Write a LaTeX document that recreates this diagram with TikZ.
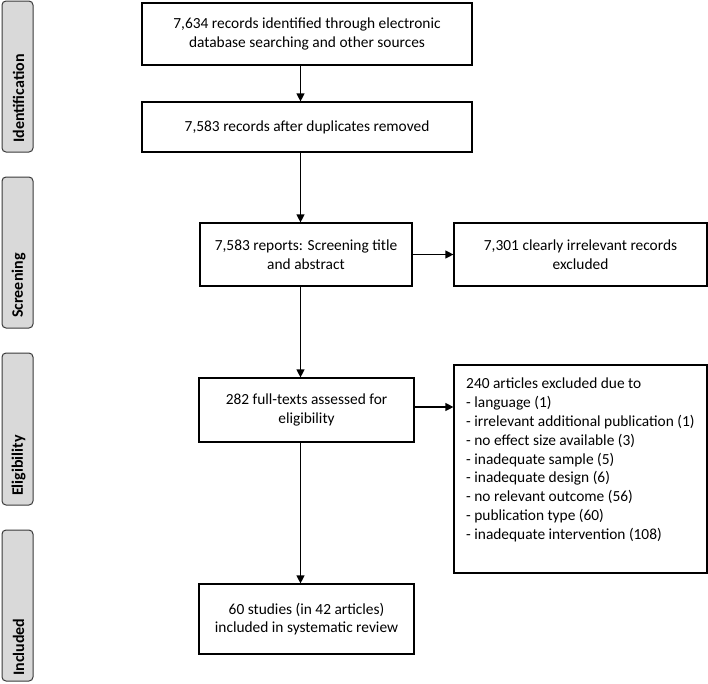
\documentclass[tikz,border=0pt]{standalone}
\usepackage{fontspec}
\setmainfont{Carlito}
\usetikzlibrary{arrows.meta}
\definecolor{sidegray}{HTML}{D9D9D9}
\definecolor{sideedge}{HTML}{3A3A3A}
\tikzset{
  box/.style={draw=black, line width=1.2pt, fill=white, align=center, inner sep=0pt,
    font=\fontsize{15.4}{18.6}\selectfont},
  side/.style={draw=sideedge, line width=1pt, fill=sidegray, rounded corners=4pt, inner sep=0pt},
  sidetext/.style={rotate=90, anchor=west, inner sep=0pt, font=\fontsize{16}{17}\selectfont\bfseries},
  arr/.style={line width=1.2pt, -{Triangle[length=8pt,width=8pt]}},
  listtext/.style={align=left, anchor=north west, inner sep=0pt, font=\fontsize{15.4}{18.8}\selectfont}
}
\begin{document}
\begin{tikzpicture}[x=1pt,y=-1pt]
\useasboundingbox (0,0) rectangle (708,683);
% side labels
\node[side, minimum width=31pt, minimum height=151pt] (sid) at (17.5,76.5) {};
\node[side, minimum width=31pt, minimum height=151pt] (sscr) at (17.5,252.5) {};
\node[side, minimum width=31pt, minimum height=152pt] (seli) at (17.5,429) {};
\node[side, minimum width=31pt, minimum height=151pt] (sinc) at (17.5,605.5) {};
\node[sidetext] (tid) at (18.5,143) {Identification};
\node[sidetext] (tscr) at (18.5,318) {Screening};
\node[sidetext] (teli) at (18.5,496) {Eligibility};
\node[sidetext] (tinc) at (18.5,676) {Included};
% boxes
\node[box, minimum width=330pt, minimum height=62pt] (b1) at (307,34) {7,634 records identified through electronic\\database searching and other sources};
\node[box, minimum width=330pt, minimum height=50pt] (b2) at (307,127) {7,583 records after duplicates removed};
\node[box, minimum width=212pt, minimum height=63pt] (b3) at (306,254.5) {7,583 reports: Screening title\\and abstract};
\node[box, minimum width=253pt, minimum height=63pt] (b4) at (580.5,254.5) {7,301 clearly irrelevant records\\excluded};
\node[box, minimum width=215pt, minimum height=64pt] (b5) at (306.5,410) {282 full-texts assessed for\\eligibility};
\node[box, minimum width=253pt, minimum height=208pt] (b6) at (580.5,469) {};
\node[listtext] (l6) at (466,378) {240 articles excluded due to\\
- language (1)\\
- irrelevant additional publication (1)\\
- no effect size available (3)\\
- inadequate sample (5)\\
- inadequate design (6)\\
- no relevant outcome (56)\\
- publication type (60)\\
- inadequate intervention (108)};
\node[box, minimum width=215pt, minimum height=70pt] (b7) at (306.5,619) {60 studies (in 42 articles)\\included in systematic review};
% connectors
\coordinate (ax) at (300.5,0);
\draw[arr] (b1.south -| ax) -- (b2.north -| ax);
\draw[arr] (b2.south -| ax) -- (b3.north -| ax);
\draw[arr] (b3.south -| ax) -- (b5.north -| ax);
\draw[arr] (b5.south -| ax) -- (b7.north -| ax);
\draw[arr] (b3.east) -- (b4.west);
\draw[arr] (b5.east |- 0,407) -- (b6.west |- 0,407);
\end{tikzpicture}
\end{document}
